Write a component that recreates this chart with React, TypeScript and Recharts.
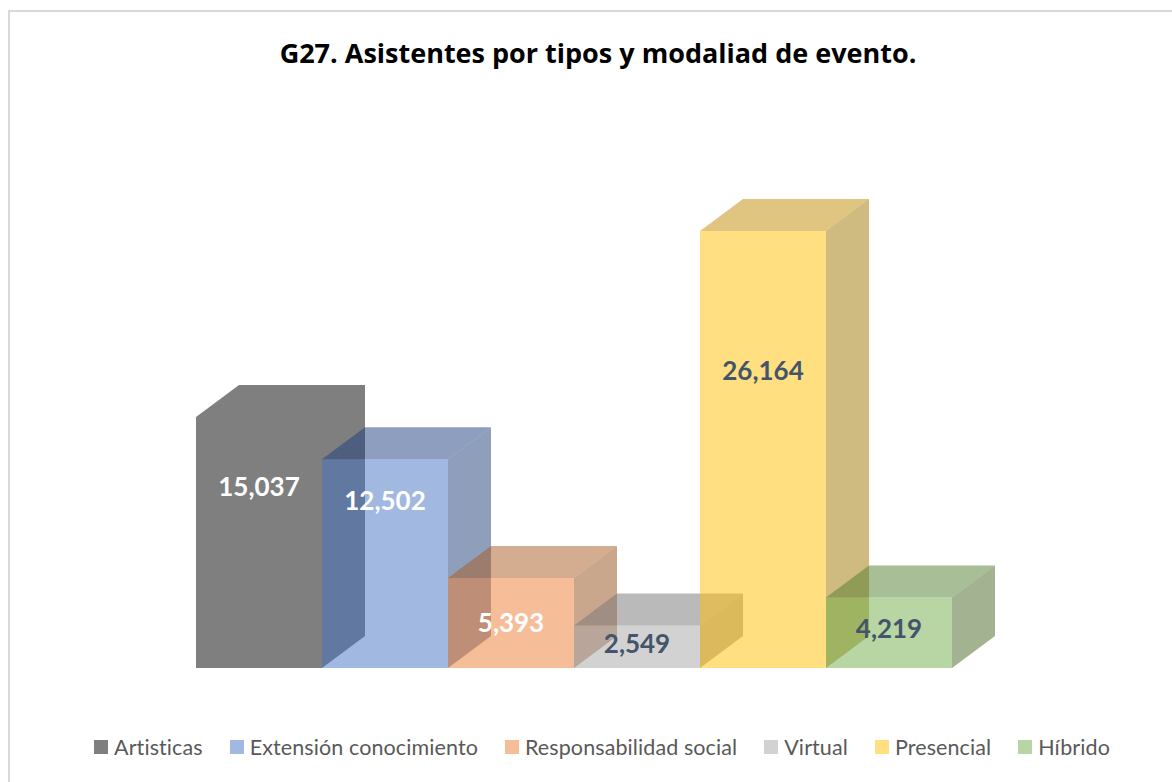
import React from "react";
import { BarChart, Bar, XAxis, YAxis, Legend, LabelList } from "recharts";

const seriesNames = ["Artisticas", "Extensión conocimiento", "Responsabilidad social", "Virtual", "Presencial", "Híbrido"];
const seriesValues = [15037, 12502, 5393, 2549, 26164, 4219];
const rowLabel = ["Asistentes"];

const frontFills = ["rgba(0,0,0,0.5)", "rgba(68,114,196,0.5)", "rgba(237,125,49,0.5)", "rgba(165,165,165,0.5)", "rgba(255,192,0,0.5)", "rgba(112,173,71,0.5)"];
const topFills = ["rgba(0,0,0,0.5)", "rgba(27,61,127,0.5)", "rgba(169,89,31,0.5)", "rgba(117,117,117,0.5)", "rgba(191,139,0,0.5)", "rgba(81,125,45,0.5)"];
const sideFills = ["rgba(0,0,0,0.5)", "rgba(31,61,117,0.5)", "rgba(147,79,27,0.5)", "rgba(105,105,105,0.5)", "rgba(159,117,0,0.5)", "rgba(71,101,35,0.5)"];
const legendFills = ["#7f7f7f", "#a1b8e1", "#f6be98", "#d2d2d2", "#ffdf7f", "#b7d6a3"];
const labelColors = ["#ffffff", "#ffffff", "#ffffff", "#44546a", "#44546a", "#44546a"];
const labelDrops = [69, 41, 44, 18, 139, 30];

const data = rowLabel.map((name) => {
  const row: Record<string, string | number> = { name };
  seriesNames.forEach((s, i) => {
    row[s] = seriesValues[i];
  });
  return row;
});

const DX = 43;
const DY = 32;
const FONT = "Lato, 'Open Sans', sans-serif";

const makeShape = (i: number) => (props: any) => {
  const { x, y, width, height } = props;
  const r = x + width;
  const b = y + height;
  if (frontFills[i] === topFills[i] && frontFills[i] === sideFills[i]) {
    return (
      <polygon
        points={`${x},${y} ${x + DX},${y - DY} ${r + DX},${y - DY} ${r + DX},${b - DY} ${r},${b} ${x},${b}`}
        fill={frontFills[i]}
      />
    );
  }
  return (
    <g>
      <polygon points={`${x},${y} ${x + DX},${y - DY} ${r + DX},${y - DY} ${r},${y}`} fill={topFills[i]} />
      <polygon points={`${r},${y} ${r + DX},${y - DY} ${r + DX},${b - DY} ${r},${b}`} fill={sideFills[i]} />
      <rect x={x} y={y} width={width} height={height} fill={frontFills[i]} />
    </g>
  );
};

const makeLabel = (i: number) => (props: any) => {
  const { x, y, width, value } = props;
  return (
    <text
      x={x + width / 2}
      y={y + labelDrops[i]}
      textAnchor="middle"
      dominantBaseline="central"
      fill={labelColors[i]}
      fontFamily={FONT}
      fontWeight={700}
      fontSize={26}
    >
      {Number(value).toLocaleString("en-US")}
    </text>
  );
};

const LegendContent = () => (
  <div style={{ display: "flex", justifyContent: "center", alignItems: "center", gap: 27, height: 30, fontFamily: FONT, fontSize: 21.5, letterSpacing: 0.1, color: "#595959", whiteSpace: "nowrap" }}>
    {seriesNames.map((s, i) => (
      <div key={s} style={{ display: "flex", alignItems: "center", gap: 6 }}>
        <span style={{ width: 14, height: 14, background: legendFills[i], display: "inline-block" }} />
        <span>{s}</span>
      </div>
    ))}
  </div>
);

export default function App() {
  return (
    <div style={{ position: "absolute", left: 0, top: 0, width: 1172, height: 782, overflow: "hidden", background: "#fff" }}>
      <div style={{ position: "absolute", left: 8, top: 10, width: 1164, height: 772, borderLeft: "2px solid #d9d9d9", borderTop: "2px solid #d9d9d9", boxSizing: "border-box" }} />
      <div style={{ position: "absolute", left: 0, width: 1196, top: 35, textAlign: "center", fontFamily: "'Open Sans', sans-serif", fontWeight: 700, fontSize: 27, lineHeight: "36px", color: "#000", whiteSpace: "nowrap" }}>
        G27. Asistentes por tipos y modaliad de evento.
      </div>
      <BarChart
        width={1172}
        height={782}
        data={data}
        barGap={0}
        barCategoryGap={0}
        margin={{ top: 167, right: 220, bottom: 84, left: 196 }}
        style={{ position: "absolute", left: 0, top: 0 }}
      >
        <XAxis dataKey="name" hide />
        <YAxis hide domain={[0, 30000]} />
        <Legend
          verticalAlign="bottom"
          height={30}
          content={<LegendContent />}
          wrapperStyle={{ left: 0, width: 1204, bottom: 20 }}
        />
        {seriesNames.map((s, i) => (
          <Bar key={s} dataKey={s} isAnimationActive={false} shape={makeShape(i)}>
            <LabelList dataKey={s} content={makeLabel(i)} />
          </Bar>
        ))}
      </BarChart>
    </div>
  );
}
